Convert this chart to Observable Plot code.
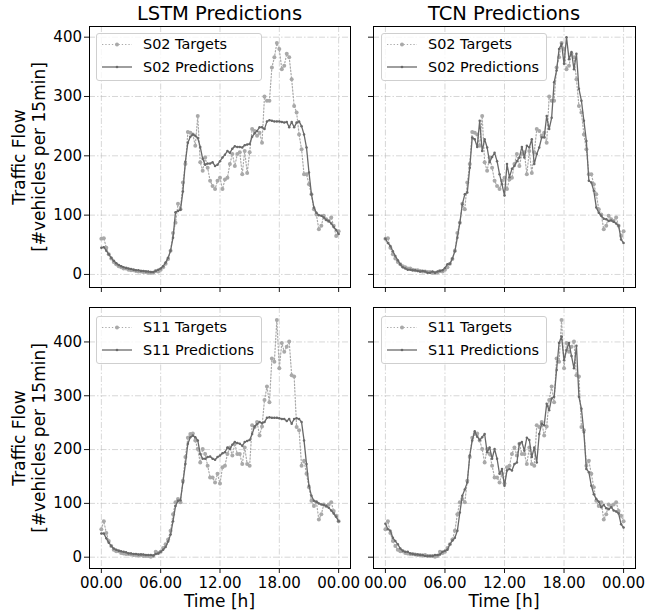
<!DOCTYPE html>
<html><head><meta charset="utf-8">
<script src="https://cdn.jsdelivr.net/npm/d3@7"></script>
<script src="https://cdn.jsdelivr.net/npm/@observablehq/plot@0.6"></script>
<style>
body{margin:0;background:#fff;}
#fig{position:relative;width:645px;height:615px;font-family:"DejaVu Sans",sans-serif;color:#000;overflow:hidden;background:#fff}
.abs{position:absolute;white-space:nowrap;line-height:1}
.title{font-size:19.5px;transform:translateX(-50%)}
.xlab{font-size:17px;transform:translateX(-50%)}
.ylab{font-size:17px;line-height:19.5px;text-align:center;transform:translate(-50%,-50%) rotate(-90deg)}
.legend{position:absolute;border:1px solid #cfcfcf;border-radius:3px;background:rgba(255,255,255,0.8);box-sizing:border-box}
.ltext{position:absolute;font-size:14.4px;line-height:1;white-space:nowrap}
svg.panel{position:absolute}
</style></head><body><div id="fig"></div>
<script>
const xTickValues = [0, 24, 48, 72, 96];
const xTickLabels = ["00.00", "06.00", "12.00", "18.00", "00.00"];
const yTickValues = [0, 100, 200, 300, 400];
const modelTitles = ["LSTM Predictions", "TCN Predictions"];
const sensors = ["S02", "S11"];

const s02Targets = [60,61,45,34,27,21,17,14,12,10,10,8,7,7,6,5,5,4,4,3,3,3,6,5,8,12,18,26,40,70,87,119,110,155,186,240,239,236,217,267,189,175,197,180,158,149,144,158,163,144,160,163,186,203,183,203,206,169,208,171,206,245,242,234,239,222,300,293,293,349,366,390,380,346,352,372,366,329,284,273,236,211,169,169,152,135,110,101,76,82,99,93,90,96,82,65,73];
const s02Lstm = [45,46,40,34,28,23,19,16,14,12,11,10,9,8,7,7,6,6,5,5,4,4,6,8,10,14,20,28,40,62,105,107,109,140,190,222,232,236,234,230,215,195,185,187,187,189,183,185,191,197,202,208,205,212,216,215,215,214,218,219,220,232,238,242,248,248,245,258,260,259,258,258,258,257,256,257,248,257,248,256,258,250,236,214,172,135,113,104,100,99,96,92,90,86,80,75,68];
const s02Tcn = [60,53,48,39,31,24,17,12,10,8,8,7,7,6,5,6,5,3,3,5,3,5,6,7,11,17,18,27,39,62,87,118,135,138,180,231,228,215,259,208,228,214,189,198,205,191,169,152,133,186,164,178,183,191,197,215,197,217,214,228,186,203,214,231,231,267,245,264,324,344,380,389,355,400,363,375,346,372,313,293,259,225,158,155,141,113,104,99,94,93,90,91,89,86,82,59,53];
const s11Targets = [52,67,45,30,21,14,11,11,8,7,6,6,5,4,4,3,4,2,2,2,1,2,10,8,10,17,24,33,49,80,102,108,102,142,186,222,229,230,217,201,176,201,192,170,148,148,139,155,137,167,170,192,204,189,211,192,192,173,204,173,170,245,242,251,226,243,292,317,288,369,363,441,351,398,382,391,401,338,336,242,236,170,179,155,130,105,95,102,70,80,98,95,98,102,86,77,67];
const s11Lstm = [44,44,35,27,21,16,14,12,11,10,9,7,7,6,6,5,5,5,4,4,4,3,6,7,10,14,19,29,42,67,95,105,106,139,173,211,223,226,223,217,192,183,183,186,187,183,181,186,189,193,195,204,201,209,214,212,211,207,214,216,218,229,243,247,251,249,251,259,260,259,259,259,258,257,257,253,257,248,257,258,257,251,217,173,133,114,105,103,100,98,97,95,92,87,81,75,67];
const s11Tcn = [62,52,49,36,30,24,16,12,10,10,7,6,5,5,4,4,2,2,2,2,4,4,5,10,12,14,24,31,36,49,83,114,126,139,189,217,234,224,218,223,229,195,204,183,201,183,155,164,133,161,164,161,173,176,211,214,198,222,218,186,204,176,229,248,245,285,273,295,298,348,398,410,366,385,398,374,351,393,298,276,232,164,158,133,117,108,103,93,97,91,89,93,87,85,81,61,55];

const targetColor = "#a9a9a9";
const predColor = "#696969";
const fig = document.getElementById("fig");
const xLabelMap = new Map(xTickValues.map((v, k) => [v, xTickLabels[k]]));
const toRows = arr => arr.map((v, i) => ({i, v}));

function panel(opts) {
  const {targets, preds, yDomain, yLabels, xLabels, left, top, width, height, mL, mR, mT, mB} = opts;
  const grid = {stroke: "#b8b8b8", strokeOpacity: 0.7, strokeWidth: 0.8, strokeDasharray: "6,2,1.5,2"};
  const svg = Plot.plot({
    width, height, marginLeft: mL, marginRight: mR, marginTop: mT, marginBottom: mB,
    x: {domain: [-4.8, 100.8]},
    y: {domain: yDomain},
    style: {fontFamily: "DejaVu Sans", fontSize: "15px", color: "#000", background: "transparent", overflow: "visible"},
    marks: [
      Plot.gridX(xTickValues, grid),
      Plot.gridY(yTickValues, grid),
      Plot.line(toRows(targets), {x: "i", y: "v", stroke: targetColor, strokeWidth: 1.2, strokeDasharray: "1.3,2"}),
      Plot.dot(toRows(targets), {x: "i", y: "v", r: 2, fill: targetColor}),
      Plot.line(toRows(preds), {x: "i", y: "v", stroke: predColor, strokeWidth: 1.3}),
      Plot.dot(toRows(preds), {x: "i", y: "v", r: 1.25, fill: predColor}),
      Plot.axisX({ticks: xTickValues, tickSize: 5, tickPadding: 4, strokeWidth: 0.9, label: null,
        tickFormat: xLabels ? (d => xLabelMap.get(d)) : (() => "")}),
      Plot.axisY({ticks: yTickValues, tickSize: 5, tickPadding: 2.5, strokeWidth: 0.9, label: null,
        tickFormat: yLabels ? (d => String(d)) : (() => "")}),
      Plot.frame({stroke: "#000", strokeWidth: 1})
    ]
  });
  svg.classList.add("panel");
  svg.style.left = left + "px";
  svg.style.top = top + "px";
  fig.appendChild(svg);
}

function legend(left, top, sensor) {
  const d = document.createElement("div");
  d.className = "legend";
  d.style.left = left + "px"; d.style.top = top + "px";
  d.style.width = "166px"; d.style.height = "48px";
  d.innerHTML = `<svg width="40" height="46" style="position:absolute;left:0;top:0">
    <line x1="5" x2="35" y1="10.5" y2="10.5" stroke="${targetColor}" stroke-width="1.2" stroke-dasharray="1.3,2"/>
    <circle cx="20" cy="10.5" r="2" fill="${targetColor}"/>
    <line x1="5" x2="35" y1="33" y2="33" stroke="${predColor}" stroke-width="1.3"/>
    <circle cx="20" cy="33" r="1.3" fill="${predColor}"/></svg>
    <div class="ltext" style="left:46px;top:3px">${sensor} Targets</div>
    <div class="ltext" style="left:46px;top:25.5px">${sensor} Predictions</div>`;
  fig.appendChild(d);
}

function text(cls, str, left, top) {
  const d = document.createElement("div");
  d.className = "abs " + cls;
  d.style.left = left + "px"; d.style.top = top + "px";
  d.innerHTML = str;
  fig.appendChild(d);
}

const topDomain = [-22, 418];
const botDomain = [-21, 464];

panel({targets: s02Targets, preds: s02Lstm, yDomain: topDomain, yLabels: true, xLabels: false,
  left: 0, top: 0, width: 360, height: 300, mL: 89, mR: 10, mT: 26, mB: 13});
panel({targets: s02Targets, preds: s02Tcn, yDomain: topDomain, yLabels: false, xLabels: false,
  left: 360, top: 0, width: 285, height: 300, mL: 13, mR: 10, mT: 26, mB: 13});
panel({targets: s11Targets, preds: s11Lstm, yDomain: botDomain, yLabels: true, xLabels: true,
  left: 0, top: 290, width: 360, height: 325, mL: 89, mR: 10, mT: 17, mB: 47});
panel({targets: s11Targets, preds: s11Tcn, yDomain: botDomain, yLabels: false, xLabels: true,
  left: 360, top: 290, width: 285, height: 325, mL: 13, mR: 10, mT: 17, mB: 47});

legend(96, 33, sensors[0]);
legend(381, 33, sensors[0]);
legend(96, 316, sensors[1]);
legend(381, 316, sensors[1]);

text("title", modelTitles[0], 219.5, 4);
text("title", modelTitles[1], 504, 4);
text("xlab", "Time [h]", 219.5, 593);
text("xlab", "Time [h]", 504, 593);
text("ylab", "Traffic Flow<br>[#vehicles per 15min]", 29, 156.5);
text("ylab", "Traffic Flow<br>[#vehicles per 15min]", 29, 437.5);
</script></body></html>
